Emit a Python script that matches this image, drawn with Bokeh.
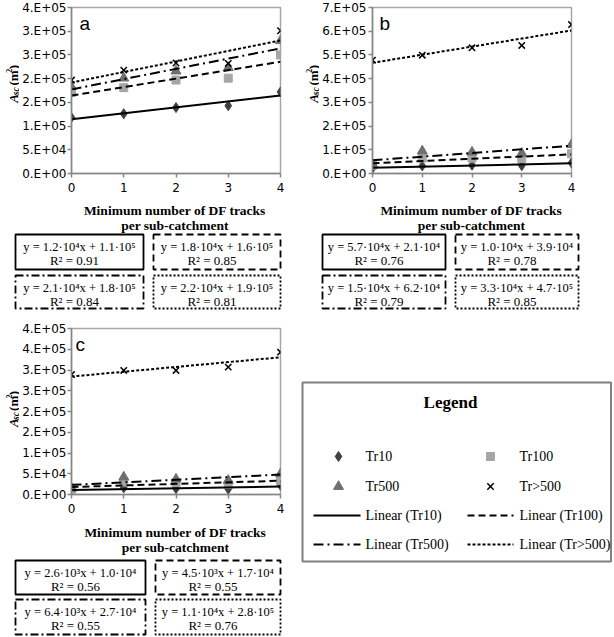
import numpy as np
from bokeh.plotting import figure
from bokeh.layouts import row, column
from bokeh.models import Range1d, FixedTicker
from bokeh.core.properties import value
from bokeh.embed import file_html
from bokeh.resources import INLINE

# ---------------- data ----------------
x_tracks = [0, 1, 2, 3, 4]
x_ticklabels = ["0", "1", "2", "3", "4"]
series_names = ["Tr10", "Tr100", "Tr500", "Tr>500"]

a_tr10 = [1.18e5, 1.26e5, 1.39e5, 1.43e5, 1.72e5]
a_tr100 = [1.71e5, 1.81e5, 1.97e5, 2.01e5, 2.50e5]
a_tr500 = [1.83e5, 2.01e5, 2.16e5, 2.23e5, 2.80e5]
a_trgt500 = [1.97e5, 2.18e5, 2.33e5, 2.32e5, 3.01e5]

b_tr10 = [2.2e4, 3.2e4, 3.5e4, 3.3e4, 4.5e4]
b_tr100 = [3.5e4, 6.5e4, 6.5e4, 6.2e4, 8.3e4]
b_tr500 = [4.0e4, 9.5e4, 9.0e4, 8.5e4, 1.22e5]
b_trgt500 = [4.78e5, 4.99e5, 5.30e5, 5.40e5, 6.28e5]

c_tr10 = [1.0e4, 1.6e4, 1.4e4, 1.3e4, 2.2e4]
c_tr100 = [1.2e4, 3.0e4, 2.8e4, 2.4e4, 3.4e4]
c_tr500 = [1.5e4, 4.2e4, 3.7e4, 3.4e4, 5.0e4]
c_trgt500 = [2.89e5, 2.99e5, 2.99e5, 3.07e5, 3.43e5]

a_yticks = [0, 5e4, 1e5, 1.5e5, 2e5, 2.5e5, 3e5, 3.5e5]
a_ylabels = ["0.E+00", "5.E+04", "1.E+05", "2.E+05", "2.E+05", "3.E+05", "3.E+05", "4.E+05"]
b_yticks = [0, 1e5, 2e5, 3e5, 4e5, 5e5, 6e5, 7e5]
b_ylabels = ["0.E+00", "1.E+05", "2.E+05", "3.E+05", "4.E+05", "5.E+05", "6.E+05", "7.E+05"]
c_yticks = [0, 5e4, 1e5, 1.5e5, 2e5, 2.5e5, 3e5, 3.5e5, 4e5]
c_ylabels = ["0.E+00", "5.E+04", "1.E+05", "2.E+05", "2.E+05", "3.E+05", "3.E+05", "4.E+05", "4.E+05"]

a_eq = ["y = 1.2·10⁴x + 1.1·10⁵", "y = 1.8·10⁴x + 1.6·10⁵", "y = 2.1·10⁴x + 1.8·10⁵", "y = 2.2·10⁴x + 1.9·10⁵"]
a_r2 = ["R² = 0.91", "R² = 0.85", "R² = 0.84", "R² = 0.81"]
b_eq = ["y = 5.7·10⁴x + 2.1·10⁴", "y = 1.0·10⁴x + 3.9·10⁴", "y = 1.5·10⁴x + 6.2·10⁴", "y = 3.3·10⁴x + 4.7·10⁵"]
b_r2 = ["R² = 0.76", "R² = 0.78", "R² = 0.79", "R² = 0.85"]
c_eq = ["y = 2.6·10³x + 1.0·10⁴", "y = 4.5·10³x + 1.7·10⁴", "y = 6.4·10³x + 2.7·10⁴", "y = 1.1·10⁴x + 2.8·10⁵"]
c_r2 = ["R² = 0.56", "R² = 0.55", "R² = 0.55", "R² = 0.76"]

y_title_parts = ["A", "sc", "(m", "2", ")"]
x_title = ["Minimum number of DF tracks", "per sub-catchment"]
legend_title = "Legend"
legend_marker_labels = ["Tr10", "Tr100", "Tr500", "Tr>500"]
legend_line_labels = ["Linear (Tr10)", "Linear (Tr100)", "Linear (Tr500)", "Linear (Tr>500)"]

# ---------------- styles ----------------
SERIF = "Liberation Serif"
TICKFONT = "DejaVu Sans"
MARK = {
    "Tr10": dict(marker="diamond", size=10, fill_color="#404040", line_color="#404040"),
    "Tr100": dict(marker="square", size=8, fill_color="#a6a6a6", line_color="#a6a6a6"),
    "Tr500": dict(marker="triangle", size=10, fill_color="#6f6f6f", line_color="#6f6f6f"),
    "Tr>500": dict(marker="x", size=9, line_color="#000000", line_width=1.5),
}
DASH = {"Tr10": "solid", "Tr100": "7 4", "Tr500": "10 4 2 4", "Tr>500": "3 2"}
BOXDASH = {"Tr10": "solid", "Tr100": "7 4", "Tr500": "8 3 2 3", "Tr>500": "2 2"}
# y title pieces: (size, style, baseline shift to the right, advance)
YT_STYLE = [("13px", "bold italic", 0.0, 8.7),
            ("9.5px", "bold italic", 2.5, 11.3),
            ("13px", "bold", 0.0, 15.2),
            ("8px", "bold", -4.5, 4.0),
            ("13px", "bold", 0.0, 4.3)]

LEFT_W, RIGHT_W = 300, 312
LAB_W = 19
ROW1_H, BOXAB_H, C_H, BOXC_H = 195, 116, 205, 120


def blank(width, height):
    f = figure(width=width, height=height, x_range=Range1d(0, width), y_range=Range1d(0, height),
               x_axis_type=None, y_axis_type=None, output_backend="svg", toolbar_location=None,
               min_border=0)
    f.grid.visible = False
    f.outline_line_color = None
    return f


def make_panel(letter, series, yticks, ylabels, width, height, bl, br, bt, bb, let_dx, standoff):
    ymax = yticks[-1]
    p = figure(width=width, height=height, x_range=Range1d(0, 4), y_range=Range1d(0, ymax),
               output_backend="svg", toolbar_location=None,
               min_border_left=bl, min_border_right=br, min_border_top=bt, min_border_bottom=bb)
    p.grid.visible = False
    p.outline_line_color = "#a6a6a6"
    p.outline_line_width = 1.5
    for name, vals in zip(series_names, series):
        p.scatter(x_tracks, vals, **MARK[name])
    for name, vals in zip(series_names, series):
        k, c0 = np.polyfit(x_tracks, vals, 1)
        xs = [x_tracks[0], x_tracks[-1]]
        p.line(xs, [k * xx + c0 for xx in xs], line_color="black", line_width=2, line_dash=DASH[name])
    fw = width - bl - br
    fh = height - bt - bb
    p.text(x=[4 * let_dx / fw], y=[ymax * (1 - 16 / fh)], text=[letter],
           text_font=value("Liberation Sans"), text_font_size="19px", text_color="black",
           text_baseline="alphabetic", text_align="left")
    for ax in (p.xaxis[0], p.yaxis[0]):
        ax.axis_line_color = "#868686"
        ax.axis_line_width = 1.5
        ax.major_tick_line_color = "#868686"
        ax.major_tick_line_width = 1.5
        ax.major_tick_in = 0
        ax.major_tick_out = 4
        ax.minor_tick_line_color = None
        ax.major_label_text_font = TICKFONT
        ax.major_label_text_font_size = "12px"
        ax.major_label_text_color = "black"
    p.xaxis.ticker = FixedTicker(ticks=x_tracks)
    p.xaxis.major_label_overrides = {float(t): l for t, l in zip(x_tracks, x_ticklabels)}
    p.xaxis.major_label_standoff = 5
    p.yaxis.ticker = FixedTicker(ticks=yticks)
    p.yaxis.major_label_overrides = {float(t): l for t, l in zip(yticks, ylabels)}
    p.yaxis.major_label_standoff = standoff
    return p


def make_ylabel(height, bt, bb):
    f = blank(LAB_W, height)
    yc = bb + (height - bt - bb) / 2
    base = 13.0
    total = sum(s[3] for s in YT_STYLE)
    y = yc - total / 2
    for txt, (sz, st, dx, adv) in zip(y_title_parts, YT_STYLE):
        f.text(x=[base + dx], y=[y], text=[txt], angle=np.pi / 2, text_font=value(SERIF),
               text_font_size=sz, text_font_style=st, text_color="black",
               text_align="left", text_baseline="alphabetic")
        y += adv
    return f


def make_boxes(width, height, title_cx, title_ys, cols, rows, eqs, r2s):
    f = blank(width, height)
    for ty, t in zip(title_ys, x_title):
        f.text(x=[title_cx], y=[height - ty], text=[t], text_font=value(SERIF), text_font_size="13.5px",
               text_font_style="bold", text_color="black", text_align="center", text_baseline="middle")
    k = 0
    for (yt, yb) in rows:
        for (x0, x1) in cols:
            name = series_names[k]
            f.quad(left=[x0], right=[x1], top=[height - yt], bottom=[height - yb], fill_color=None,
                   line_color="black", line_width=1.8, line_dash=BOXDASH[name])
            cx = (x0 + x1) / 2
            f.text(x=[cx], y=[height - (yt + 12)], text=[eqs[k]], text_font=value(SERIF),
                   text_font_size="12.5px", text_color="black", text_align="center", text_baseline="middle")
            f.text(x=[cx - 5], y=[height - (yt + 26)], text=[r2s[k]], text_font=value(SERIF),
                   text_font_size="13px", text_color="black", text_align="center", text_baseline="middle")
            k += 1
    return f


def make_legend(width, height):
    f = blank(width, height)
    H = height
    f.quad(left=[2], right=[310.5], top=[H - 71], bottom=[H - 250], fill_color=None,
           line_color="#7f7f7f", line_width=2)
    f.text(x=[150], y=[H - 91], text=[legend_title], text_font=value(SERIF), text_font_size="17px",
           text_font_style="bold", text_color="black", text_align="center", text_baseline="middle")
    row_y = [145, 175, 204, 233]
    colx = [(38, 65, 13, 60), (190, 219, 167, 213)]
    for i, name in enumerate(series_names):
        mx, tx, l0, l1 = colx[i % 2]
        yy = H - row_y[i // 2]
        f.scatter([mx], [yy], **MARK[name])
        f.text(x=[tx], y=[yy], text=[legend_marker_labels[i]], text_font=value(SERIF),
               text_font_size="14px", text_color="black", text_align="left", text_baseline="middle")
    for i, name in enumerate(series_names):
        mx, tx, l0, l1 = colx[i % 2]
        yy = H - row_y[2 + i // 2]
        f.line([l0, l1], [yy, yy], line_color="black", line_width=2, line_dash=DASH[name])
        f.text(x=[tx], y=[yy], text=[legend_line_labels[i]], text_font=value(SERIF),
               text_font_size="14px", text_color="black", text_align="left", text_baseline="middle")
    return f


# ---------------- panels ----------------
fig_a = make_panel("a", [a_tr10, a_tr100, a_tr500, a_trgt500], a_yticks, a_ylabels,
                   LEFT_W - LAB_W, ROW1_H, 50, 20, 7, 22, 8, 1)
fig_b = make_panel("b", [b_tr10, b_tr100, b_tr500, b_trgt500], b_yticks, b_ylabels,
                   RIGHT_W - LAB_W, ROW1_H, 52, 41, 7, 22, 7, 2)
fig_c = make_panel("c", [c_tr10, c_tr100, c_tr500, c_trgt500], c_yticks, c_ylabels,
                   LEFT_W - LAB_W, C_H, 50, 20, 17, 22, 4, 1)

lab_a = make_ylabel(ROW1_H, 7, 22)
lab_b = make_ylabel(ROW1_H, 7, 22)
lab_c = make_ylabel(C_H, 17, 22)

box_a = make_boxes(LEFT_W, BOXAB_H, 174.5, [15, 30], [(15, 143), (153, 280)], [(39, 74), (80, 113)], a_eq, a_r2)
box_b = make_boxes(RIGHT_W, BOXAB_H, 171, [15, 30], [(22, 145), (155, 278)], [(39, 74), (80, 113)], b_eq, b_r2)
box_c = make_boxes(LEFT_W, BOXC_H, 175, [16, 31], [(15, 145), (155, 280)], [(44, 78), (83, 118)], c_eq, c_r2)

leg = make_legend(RIGHT_W, C_H + BOXC_H)

layout = column(
    row(row(lab_a, fig_a), row(lab_b, fig_b)),
    row(box_a, box_b),
    row(column(row(lab_c, fig_c), box_c), leg),
)

open("out.html", "w").write(file_html(layout, INLINE, title="DF tracks"))
